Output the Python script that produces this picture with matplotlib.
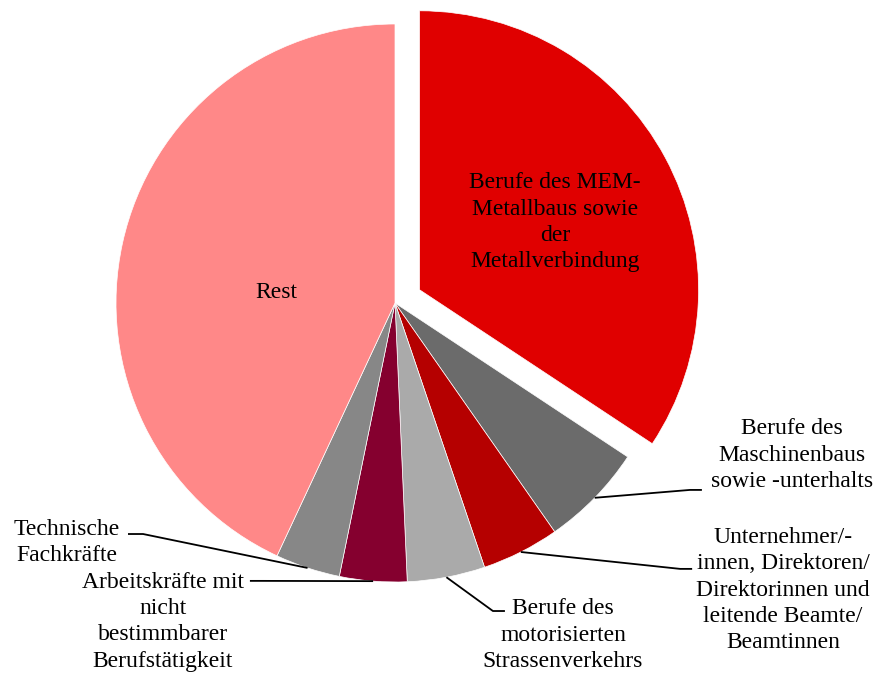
import numpy as np
import matplotlib.pyplot as plt

plt.rcParams['font.family'] = ['Liberation Serif', 'DejaVu Serif']

# DATA -------------------
labels = [
    "Berufe des MEM-\nMetallbaus sowie\nder\nMetallverbindung",
    "Berufe des\nMaschinenbaus\nsowie -unterhalts",
    "Unternehmer/-\ninnen, Direktoren/\nDirektorinnen und\nleitende Beamte/\nBeamtinnen",
    "Berufe des\nmotorisierten\nStrassenverkehrs",
    "Arbeitskräfte mit\nnicht\nbestimmbarer\nBerufstätigkeit",
    "Technische\nFachkräfte",
    "Rest",
]
shares = [34.3, 6.0, 4.5, 4.5, 3.9, 3.75, 43.05]
colors = ["#E00000", "#6B6B6B", "#B50000", "#AAAAAA", "#85002F", "#878787", "#FF8888"]
explode = [0.1, 0, 0, 0, 0, 0, 0]

# label layout (data units, pie radius = 1)
# (text x, text y, (elbow x, elbow y, end x)) ; None -> label inside wedge
label_pos = [
    (0.573, 0.290, None),
    (1.423, -0.545, (1.057, -0.670, 1.10)),
    (1.391, -1.029, (1.022, -0.953, 1.065)),
    (0.602, -1.190, (0.351, -1.104, 0.394)),
    (-0.832, -1.143, (-0.477, -0.996, -0.52)),
    (-1.176, -0.857, (-0.903, -0.828, -0.957)),
    (-0.427, 0.036, None),
]

# PLOTTING -------------
fig = plt.figure(figsize=(8.79, 6.78), dpi=100)
ax = fig.add_axes([0, 0, 1, 1])

wedges, _ = ax.pie(shares, colors=colors, explode=explode, startangle=90,
                   counterclock=False, radius=1,
                   wedgeprops=dict(linewidth=0.5, edgecolor='white'))

for w, lab, pos in zip(wedges, labels, label_pos):
    tx, ty, leader = pos
    ax.text(tx, ty, lab, ha='center', va='center', fontsize=17,
            linespacing=1.32, color='black')
    if leader is None:
        continue
    mid = np.deg2rad((w.theta1 + w.theta2) / 2)
    x0, y0 = np.cos(mid), np.sin(mid)
    ex, ey, endx = leader
    ax.plot([x0, ex, endx], [y0, ey, ey], color='black', lw=1.3,
            solid_capstyle='butt')

ax.set_xlim(-395 / 279, 484 / 279)
ax.set_ylim(-375 / 279, 303 / 279)
ax.set_aspect('auto')
ax.axis('off')

plt.savefig('out.png', dpi=100)
